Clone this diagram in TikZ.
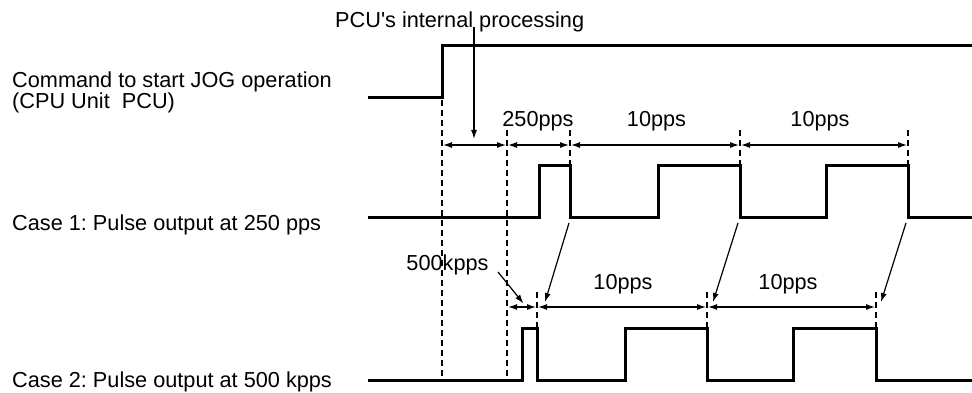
\documentclass[tikz,border=0pt]{standalone}
\usepackage{fontspec}
\setmainfont{Liberation Sans}
\usetikzlibrary{arrows.meta}
\frenchspacing
\newcommand{\straightquote}{\XeTeXglyph\numexpr\XeTeXcharglyph"27\relax}
\begin{document}
\begin{tikzpicture}[x=1pt,y=-1pt,
  sig/.style={line width=3pt,line join=miter,line cap=butt},
  guide/.style={line width=1.3pt,dash pattern=on 6pt off 4pt},
  dim/.style={line width=1.2pt,{Latex[length=9pt,width=6pt]}-{Latex[length=9pt,width=6pt]},shorten <=1pt,shorten >=1pt},
  pointer/.style={line width=1.2pt,-{Latex[length=9pt,width=6pt]}},
  lbl/.style={inner sep=0pt,font=\fontsize{21.7}{20}\selectfont},
  rate/.style={inner sep=0pt,anchor=base,font=\fontsize{21.7}{20}\selectfont}]
\useasboundingbox (0,0) rectangle (972,393);

% left labels
\node[lbl,anchor=base west,align=left] (cmd) at (12,108.5) {Command to start JOG operation\\(CPU Unit\ \ PCU)};
\node[lbl,anchor=base west] (c1) at (12,230) {Case 1: Pulse output at 250 pps};
\node[lbl,anchor=base west] (c2) at (12,387) {Case 2: Pulse output at 500 kpps};
\node[lbl,anchor=base west] (pcu) at (335,28) {PCU\straightquote s internal processing};

% waveforms
\draw[sig] (368,98) -- (442,98) -- (442,46) -- (972,46);
\draw[sig] (368,217) -- (539,217) -- (539,166) -- (570,166) -- (570,217) -- (658,217) -- (658,166) -- (740,166) -- (740,217) -- (826,217) -- (826,166) -- (908,166) -- (908,217) -- (972,217);
\draw[sig] (368,380) -- (522,380) -- (522,328) -- (537,328) -- (537,380) -- (625,380) -- (625,328) -- (707,328) -- (707,380) -- (793,380) -- (793,328) -- (876,328) -- (876,380) -- (972,380);

% guide lines
\draw[guide] (442,100) -- (442,380);
\draw[guide] (507,130) -- (507,380);
\draw[guide] (570,130) -- (570,166);
\draw[guide] (740,130) -- (740,166);
\draw[guide] (908,130) -- (908,166);
\draw[guide] (537,292) -- (537,328);
\draw[guide] (707,292) -- (707,328);
\draw[guide] (876,292) -- (876,328);

% dimension points row 1
\coordinate (r1a) at (442,145);
\coordinate (r1b) at (507,145);
\coordinate (r1c) at (570,145);
\coordinate (r1d) at (740,145);
\coordinate (r1e) at (908,145);
\draw[dim] (r1a) -- (r1b);
\draw[dim] (r1b) -- (r1c);
\draw[dim] (r1c) -- (r1d);
\draw[dim] (r1d) -- (r1e);

% dimension points row 2
\coordinate (r2a) at (507,307);
\coordinate (r2b) at (537,307);
\coordinate (r2c) at (707,307);
\coordinate (r2d) at (876,307);
\draw[dim] (r2a) -- (r2b);
\draw[dim] (r2b) -- (r2c);
\draw[dim] (r2c) -- (r2d);

% rate labels
\node[rate] (t250) at (538,127) {250pps};
\node[rate] (t10a) at (656.5,127) {10pps};
\node[rate] (t10b) at (820,127) {10pps};
\node[rate] (t500) at (447.5,270) {500kpps};
\node[rate] (t10c) at (623,289) {10pps};
\node[rate] (t10d) at (788,289) {10pps};

% pointers
\coordinate (pcuS) at (474,27);
\coordinate (pcuE) at (474,139);
\draw[pointer] (pcuS) -- (pcuE);
\coordinate (k5S) at (498,272);
\coordinate (k5E) at (523.5,303.5);
\draw[pointer] (k5S) -- (k5E);
\coordinate (f1S) at (569,223);
\coordinate (f1E) at (545,302);
\coordinate (f2S) at (738,223);
\coordinate (f2E) at (713,302);
\coordinate (f3S) at (906,223);
\coordinate (f3E) at (881,302);
\draw[pointer] (f1S) -- (f1E);
\draw[pointer] (f2S) -- (f2E);
\draw[pointer] (f3S) -- (f3E);
\end{tikzpicture}
\end{document}
